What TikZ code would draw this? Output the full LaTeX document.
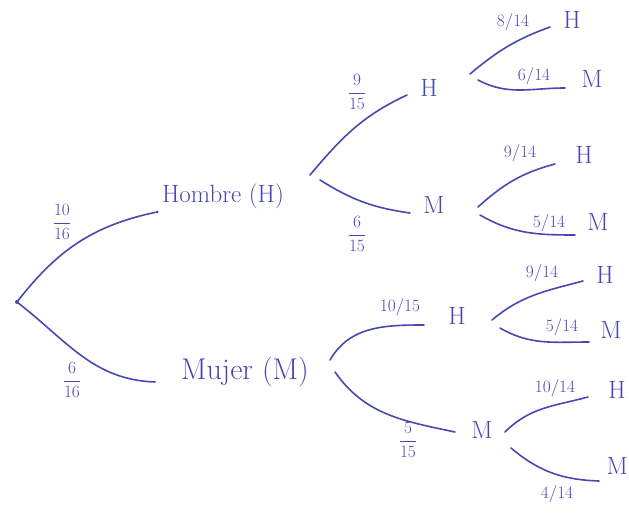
\documentclass[tikz,border=0pt]{standalone}
\usepackage{amsmath}
\definecolor{ink}{RGB}{72,72,178}
\begin{document}
\begin{tikzpicture}[x=1pt,y=-1pt,
  branch/.style={draw=ink,line width=1.6pt,line cap=round},
  big/.style={text=ink,font=\fontsize{25}{27}\selectfont,inner sep=0pt},
  leaf/.style={text=ink,font=\fontsize{25}{27}\selectfont,inner sep=0pt},
  frac/.style={text=ink,font=\fontsize{18}{20}\selectfont,inner sep=0pt},
  sfrac/.style={text=ink,font=\fontsize{16}{18}\selectfont,inner sep=0pt},
  dot/.style={circle,fill=ink,inner sep=0pt,minimum size=4pt}]
\useasboundingbox (0,0) rectangle (629,513);
% root
\node[dot] (root) at (17,302) {};
\node[dot,minimum size=3pt] (hdot) at (157,212) {};
\node[big] (hombre) at (223,196) {Hombre (H)};
\node[big,font=\fontsize{30}{32}\selectfont] (mujer) at (245,372) {Mujer (M)};
\coordinate (mend) at (155,382);
\draw[branch] (root) to[out=52,in=192] (hdot);
\draw[branch] (root) to[out=-38,in=178] (mend);
\node[frac] at (62,222) {$\dfrac{10}{16}$};
\node[frac] at (72,380) {$\dfrac{6}{16}$};
% level 2 from Hombre
\coordinate (h2s) at (310,175);
\coordinate (h2a) at (407,95);
\coordinate (h2b) at (410,213);
\coordinate (h2t) at (320,180);
\node[leaf] (hH) at (429,88) {H};
\node[leaf] (hM) at (434,205) {M};
\draw[branch] (h2s) to[out=50,in=205] (h2a);
\draw[branch] (h2t) to[out=-32,in=172] (h2b);
\node[frac] at (357,92) {$\dfrac{9}{15}$};
\node[frac] at (357,234) {$\dfrac{6}{15}$};
% level 2 from Mujer
\coordinate (m2s) at (330,360);
\coordinate (m2a) at (424,325);
\coordinate (m2t) at (335,372);
\coordinate (m2b) at (455,432);
\node[leaf] (mH) at (457,316) {H};
\node[leaf] (mM) at (482,430) {M};
\draw[branch] (m2s) to[out=60,in=180] (m2a);
\draw[branch] (m2t) to[out=-55,in=168] (m2b);
\node[sfrac] at (400,307) {$10/15$};
\node[frac] at (408,440) {$\dfrac{5}{15}$};
% level 3: HH
\draw[branch] (470,74) coordinate (a1) to[out=40,in=200] (550,27) coordinate (a2);
\draw[branch] (478,80) coordinate (a3) to[out=-28,in=180] (565,88) coordinate (a4);
\node[leaf] (hHH) at (572,20) {H};
\node[leaf] (hHM) at (592,79) {M};
\node[sfrac] at (513,22) {$8/14$};
\node[sfrac] at (534,76) {$6/14$};
% level 3: HM
\draw[branch] (478,207) coordinate (b1) to[out=42,in=195] (555,164) coordinate (b2);
\draw[branch] (480,215) coordinate (b3) to[out=-30,in=180] (575,235) coordinate (b4);
\node[leaf] (hMH) at (584,155) {H};
\node[leaf] (hMM) at (598,222) {M};
\node[sfrac] at (520,153) {$9/14$};
\node[sfrac] at (549,223) {$5/14$};
% level 3: MH
\draw[branch] (492,320) coordinate (c1) to[out=40,in=195] (583,281) coordinate (c2);
\draw[branch] (500,328) coordinate (c3) to[out=-30,in=180] (589,342) coordinate (c4);
\node[leaf] (mHH) at (605,275) {H};
\node[leaf] (mHM) at (611,330) {M};
\node[sfrac] at (542,273) {$9/14$};
\node[sfrac] at (562,327) {$5/14$};
% level 3: MM
\draw[branch] (505,432) coordinate (d1) to[out=45,in=195] (588,397) coordinate (d2);
\draw[branch] (511,448) coordinate (d3) to[out=-40,in=178] (599,481) coordinate (d4);
\node[leaf] (mMH) at (617,390) {H};
\node[leaf,anchor=east] (mMM) at (628,466) {M};
\node[sfrac] at (555,388) {$10/14$};
\node[sfrac] at (557,494) {$4/14$};
\end{tikzpicture}
\end{document}
